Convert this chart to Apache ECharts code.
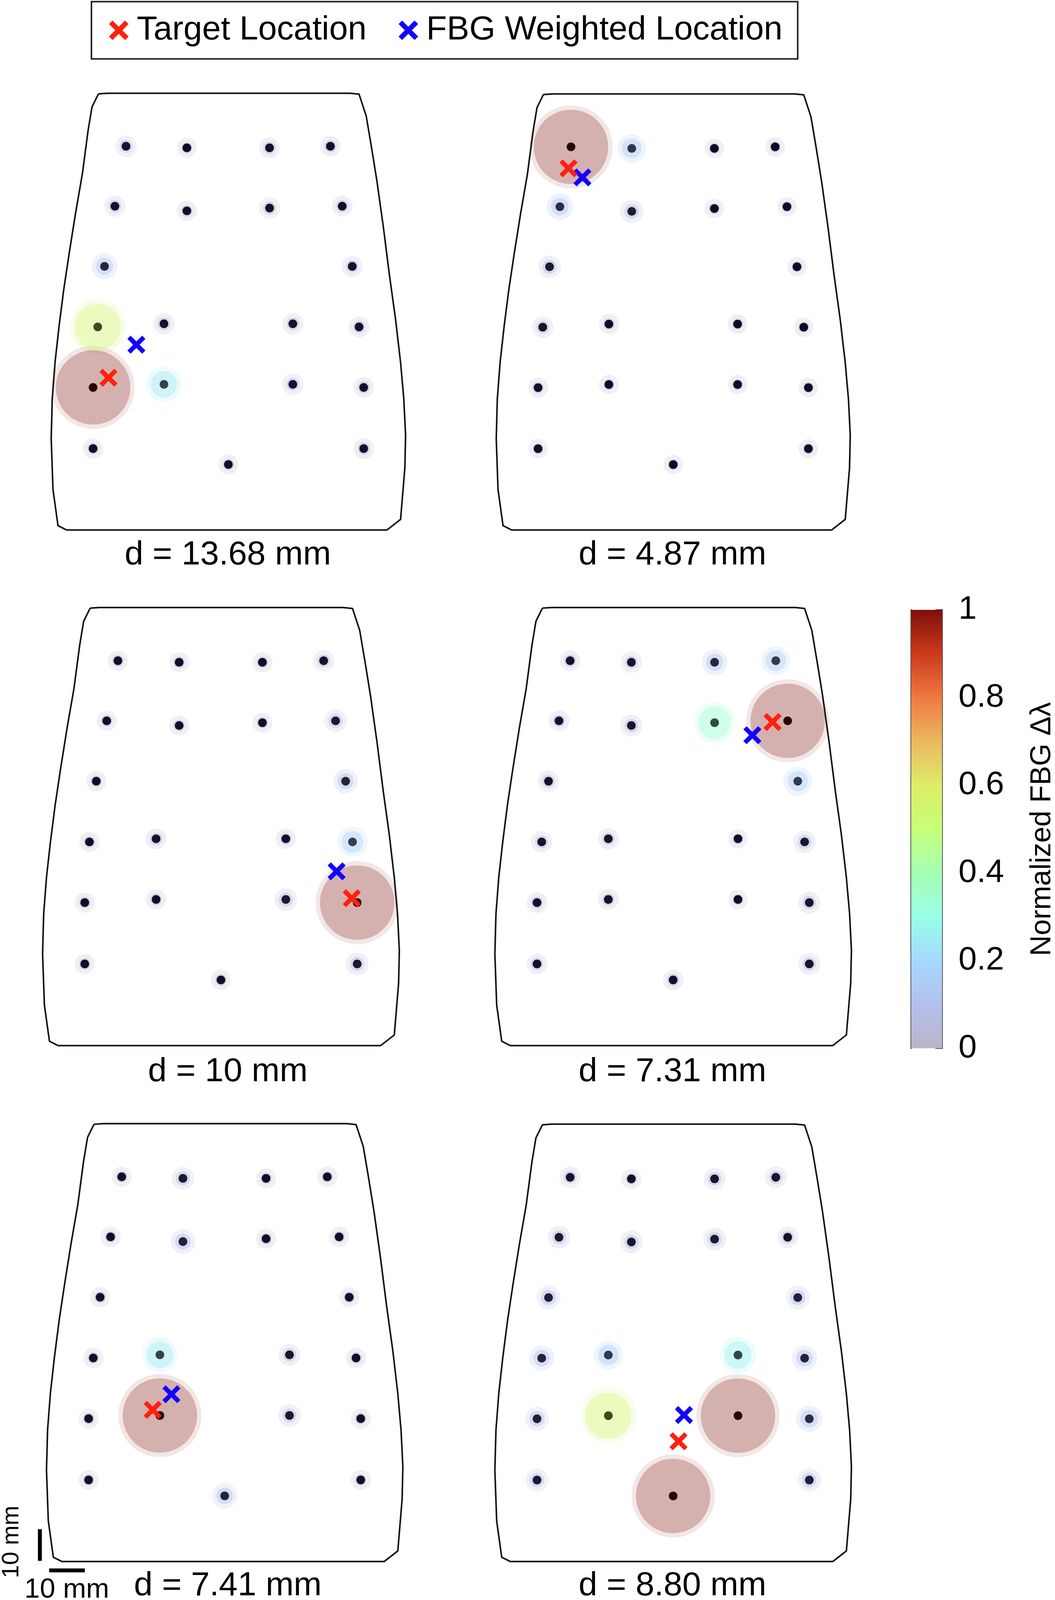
<!DOCTYPE html>
<html><head><meta charset="utf-8">
<style>html,body{margin:0;padding:0;background:#fff;overflow:hidden}</style>
<script src="https://cdn.jsdelivr.net/npm/echarts@6/dist/echarts.min.js"></script>
</head><body><div id="c"></div>
<script>
// Sensor positions in mm from the top-left of the plate (same in all panels)
const sensorX = [20.9,37.9,61,78, 17.8,37.9,61,81.3, 14.9,84.1, 13,31.5,67.5,86, 11.7,31.5,67.5,87.3, 11.7,87.3, 49.5];
const sensorY = [17,17.5,17.5,17, 36.2,37.7,36.8,36.2, 55.5,55.5, 74.9,73.9,73.9,74.9, 94.3,93.3,93.3,94.3, 113.9,113.9, 119];
// Normalized FBG response per panel
const values1 = [.03,0,.02,.02, .03,.01,.03,.02, .1,.02, .56,.03,.03,.02, 1,.25,.03,.02, .01,.02, .01];
const values2 = [1,.14,0,0, .11,.06,0,0, .05,0, .03,.01,0,0, .01,0,0,0, 0,0, 0];
const values3 = [.01,.01,.01,.03, .01,.01,.01,.05, .01,.08, .01,.02,.01,.17, .01,.01,.05,1, .01,.05, .01];
const values4 = [.02,.03,.1,.15, .02,.04,.34,1, .03,.15, .03,.03,0,.05, .02,.02,0,.04, .02,.04, .02];
const values5 = [.01,.05,.01,.01, .01,.08,.01,.01, .01,.01, .01,.25,.04,.01, .01,1,.05,.01, .01,.01, .09];
const values6 = [.03,.01,.04,.04, .05,.05,.05,.03, .07,.07, .09,.15,.26,.09, .07,.56,1,.11, .05,.06, 1];
const panelValues = [values1,values2,values3,values4,values5,values6];
const targetLoc = [[16,91.2],[20.2,23.9],[85.8,92.9],[77.1,36.6],[29.5,91.5],[51,101.5]];
const weightedLoc = [[23.8,80.6],[24.1,26.8],[81.6,84.3],[71.5,40.8],[34.7,86.5],[52.5,93.1]];
const distLabels = ['d = 13.68 mm','d = 4.87 mm','d = 10 mm','d = 7.31 mm','d = 7.41 mm','d = 8.80 mm'];
// Plate outline in mm
const outlineX = [13.2,15.8,83.5,86,88,89.5,91,92.8,94.5,96.2,97.6,98.5,99,98.8,97.6,93.8,4.3,1.9,.5,0,.3,1.1,2.2,3.5,5,6.8,8.7,10.3,11.4,13.2];
const outlineY = [.2,0,0,.3,7.3,17.5,28.2,43,58.4,72.5,86.3,98,109.6,120,136.6,140,140,138.6,127,110.7,97.9,86,74.7,63,51.5,38.5,25.9,12,4.4,.2];
// Scale bars: 10 mm each, in their own small mm frame
const barV = [[1.09,1.07],[1.09,11.2]];
const barH = [[3.69,14.26],[13.57,14.26]];
// Colour bar
const cbTicks = [0,.2,.4,.6,.8,1];
const palette = ['#bbb4c8','#b4c0ee','#a6d8ff','#98ffe6','#a6ffb4','#c6ff78','#dcee66','#ecb860','#ee7a40','#cc3a1c','#7d0f08'];

// The page layout is 2700x4788; if the window is shorter, the layout is fitted to its height.
const W = 2700, H0 = 4788;
const sy = Math.min(1, (window.innerHeight || H0) / H0);
const H = Math.round(H0 * sy);
const ks = Math.sqrt(sy);
document.getElementById('c').style.cssText = `width:${W}px;height:${H}px`;

const FONT = '"Liberation Sans", Arial, Helvetica, sans-serif';
const grids = [[131,279,907,1307],[1270,281,906,1305],[109,1818,913,1311],[1266.5,1818,912.5,1311],[119,3362.5,912,1310.5],[1266.5,3364,912.5,1309]];
const labelPos = [[583,1691],[1721,1691],[583,3238],[1721,3238],[583,4776],[1721,4776]];
const CROSS = 'path://M18 0L50 32L82 0L100 18L68 50L100 82L82 100L50 68L18 100L0 82L32 50L0 18Z';
const RED='#ff2010', BLUE='#1400ff';

const col = v => echarts.color.lerp(v, palette);
const outerSize = v => (54 + 176*v) * ks;
const innerSize = v => outerSize(v) - 24*ks;
function dotColor(v){
  const c = echarts.color.parse(col(v));
  const f = Math.min(.3, .06 + 1.5*v);
  const navy = v < .2 ? 30*(1 - v/.2) : 0;
  return `rgb(${Math.round(c[0]*f)},${Math.round(c[1]*f)},${Math.round(c[2]*f+navy)})`;
}

const padV = (176*sy - 90)/2;
const option = {
  animation:false, backgroundColor:'#fff',
  grid:[], xAxis:[], yAxis:[], series:[],
  legend:{
    left:234, top:5*sy, padding:[padV,39,padV,45], itemGap:82, itemWidth:50, itemHeight:50,
    borderColor:'#222', borderWidth:4, orient:'horizontal',
    selectedMode:false,
    textStyle:{fontFamily:FONT,fontSize:86,color:'#000',padding:[0,0,0,16]},
    data:[{name:'Target Location',icon:CROSS},{name:'FBG Weighted Location',icon:CROSS}]
  },
  graphic:[]
};

grids.forEach((g,i)=>{
  option.grid.push({left:g[0],top:g[1]*sy,width:g[2],height:g[3]*sy,outerBoundsMode:'none'});
  option.xAxis.push({type:'value',gridIndex:i,min:0,max:99,show:false});
  option.yAxis.push({type:'value',gridIndex:i,min:0,max:140,inverse:true,show:false});
  const base = {xAxisIndex:i,yAxisIndex:i,clip:false,silent:true};
  const pts = sensorX.map((x,k)=>[x,sensorY[k],panelValues[i][k]]);
  option.series.push({...base,type:'line',name:'outline'+i,data:outlineX.map((x,k)=>[x,outlineY[k]]),showSymbol:false,symbol:'none',
    lineStyle:{color:'#111',width:4,join:'round'},z:1});
  option.series.push({...base,type:'scatter',name:'halo'+i,data:pts,symbol:'circle',symbolSize:d=>outerSize(d[2]),
    itemStyle:{opacity:1,color:p=>echarts.color.modifyAlpha(col(p.value[2]),.22-.12*p.value[2])},z:2});
  option.series.push({...base,type:'scatter',name:'core'+i,data:pts,symbol:'circle',symbolSize:d=>innerSize(d[2]),
    itemStyle:{opacity:1,color:p=>echarts.color.modifyAlpha(col(p.value[2]),.45-.2*p.value[2])},z:3});
  option.series.push({...base,type:'scatter',name:'sensor'+i,data:pts,symbol:'circle',symbolSize:24*ks,
    itemStyle:{opacity:1,color:p=>dotColor(p.value[2])},z:4});
  option.series.push({...base,type:'scatter',name:'Target Location',data:[targetLoc[i]],symbol:CROSS,symbolSize:50*ks,itemStyle:{color:RED,opacity:1},z:6});
  option.series.push({...base,type:'scatter',name:'FBG Weighted Location',data:[weightedLoc[i]],symbol:CROSS,symbolSize:50*ks,itemStyle:{color:BLUE,opacity:1},z:5});
  option.graphic.push({type:'text',x:labelPos[i][0],y:(labelPos[i][1]-30)*sy,silent:true,
    style:{text:distLabels[i],font:`86px ${FONT}`,fill:'#000',textAlign:'center',textVerticalAlign:'middle'}});
});
// scale bars in their own frame
const si = grids.length;
option.grid.push({left:92,top:4566*sy,width:138.2,height:140.4*sy,outerBoundsMode:'none'});
option.xAxis.push({type:'value',gridIndex:si,min:0,max:15,show:false});
option.yAxis.push({type:'value',gridIndex:si,min:0,max:15,inverse:true,show:false});
[barV,barH].forEach((b,k)=>option.series.push({type:'line',name:'scale'+k,xAxisIndex:si,yAxisIndex:si,clip:false,silent:true,data:b,symbol:'none',showSymbol:false,lineStyle:{color:'#000',width:10,cap:'butt'},z:7}));
option.graphic.push({type:'text',x:30,y:4614*sy,rotation:Math.PI/2,silent:true,style:{text:'10 mm',font:`${71*sy}px ${FONT}`,fill:'#000',textAlign:'center',textVerticalAlign:'middle'}});
option.graphic.push({type:'text',x:171,y:4758*sy,silent:true,style:{text:'10 mm',font:`71px ${FONT}`,fill:'#000',textAlign:'center',textVerticalAlign:'middle'}});

// colour bar
const ci = grids.length + 1;
option.grid.push({left:2332,top:1825*sy,width:79,height:1312*sy,outerBoundsMode:'none'});
option.xAxis.push({type:'category',gridIndex:ci,data:['Δλ'],show:false});
option.yAxis.push({type:'value',gridIndex:ci,position:'right',min:0,max:1,interval:.1,
  axisLine:{show:true,lineStyle:{color:'#555',width:4}},
  axisTick:{show:true,inside:true,length:17,lineStyle:{color:'#333',width:2}},
  splitLine:{show:false},
  axisLabel:{margin:42,fontFamily:FONT,fontSize:84,color:'#000',formatter:v=>cbTicks.some(t=>Math.abs(t-v)<1e-6)?String(+v.toFixed(1)):''},
  name:'Normalized FBG Δλ',nameLocation:'middle',nameRotate:90,nameGap:220,
  nameTextStyle:{fontFamily:FONT,fontSize:86*sy,color:'#000'}
});
option.yAxis.push({type:'value',gridIndex:ci,position:'left',min:0,max:1,axisLine:{show:true,lineStyle:{color:'#555',width:4}},axisTick:{show:false},axisLabel:{show:false},splitLine:{show:false}});
option.series.push({type:'bar',name:'colorbar',xAxisIndex:ci,yAxisIndex:ci,data:[1],barWidth:'100%',silent:true,z:1,
  itemStyle:{color:new echarts.graphic.LinearGradient(0,1,0,0,palette.map((c,k)=>({offset:k/(palette.length-1),color:c})))}});

const chart = echarts.init(document.getElementById('c'),null,{renderer:'canvas',width:W,height:H});
chart.setOption(option);
</script></body></html>
